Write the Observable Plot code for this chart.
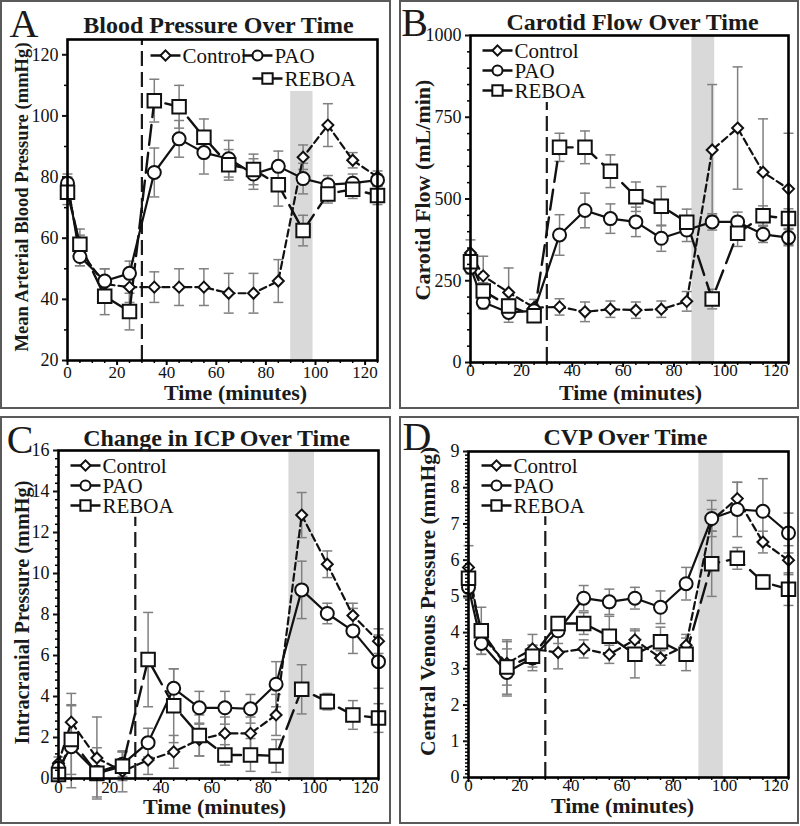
<!DOCTYPE html>
<html><head><meta charset="utf-8">
<script src="https://cdn.jsdelivr.net/npm/d3@7"></script>
<script src="https://cdn.jsdelivr.net/npm/@observablehq/plot@0.6"></script>
<style>
body{margin:0;background:#fff;}
#wrap{position:relative;width:800px;height:826px;overflow:hidden;font-family:"Liberation Serif","Times New Roman",serif;}
.panel{position:absolute;width:400px;height:413px;}
.box{position:absolute;border:2px solid #5a5a5a;box-sizing:border-box;}
</style></head>
<body><div id="wrap"></div>
<script>
// ---------- data ----------
const times = [0,5,15,25,35,45,55,65,75,85,95,105,115,125];
const seriesNames = ["Control","PAO","REBOA"];

// A: Mean arterial blood pressure (mmHg)
const mapControl = [77,56,45,44,44,44,44,42,42,46,86.5,97,85.5,80];
const mapPAO     = [78,54,46,48.5,81.5,92.5,88,86,81,83.5,79.5,77.5,78,79];
const mapREBOA   = [75,58,41,36,105,103,93,84,82.5,77.5,62.5,74.5,76,74];
const mapControlErr = [3,5,5,5,5,6,6,6.5,6.5,7,4,7,2.5,2];
const mapPAOErr     = [3,3,4,4,8,6,7,6,5,5,5,3,3,2];
const mapREBOAErr   = [4,5,6,6,7,7,6,5,5,7,5,3,3,3];

// B: Carotid flow (mL/min)
const cfControl = [335,265,214,168,170,155,163,160,163,187,650,717,582,531];
const cfPAO     = [291,184,153,158,390,465,440,430,380,405,430,430,392,382];
const cfREBOA   = [308,219,173,143,658,658,585,507,478,429,194,395,449,440];
const cfControlErr = [40,60,75,25,25,30,25,25,25,30,200,187,163,170];
const cfPAOErr     = [20,20,30,20,62,53,45,45,40,35,25,30,25,25];
const cfREBOAErr   = [20,25,20,15,43,50,50,45,60,40,30,40,30,30];

// C: Intracranial pressure change (mmHg)
const icpControl = [0.75,2.75,1.0,0.35,0.9,1.3,1.9,2.2,2.2,3.1,12.85,10.45,7.95,6.7];
const icpPAO     = [0.5,1.55,0.3,0.7,1.75,4.4,3.45,3.45,3.4,4.6,9.2,8.05,7.2,5.7];
const icpREBOA   = [0.2,1.9,0.25,0.6,5.8,3.55,2.1,1.15,1.15,1.1,4.35,3.75,3.1,2.95];
const icpControlErr = [0.3,1.4,2.0,1.0,0.7,0.8,0.8,0.8,0.8,1.0,1.1,0.65,0.6,0.6];
const icpPAOErr     = [0.3,2.0,1.2,0.6,0.7,0.95,0.8,0.8,0.7,1.1,1.4,0.5,1.1,1.3];
const icpREBOAErr   = [0.2,1.7,0.3,0.7,2.3,1.8,1.0,0.5,0.8,0.8,1.2,0.4,0.7,0.7];

// D: Central venous pressure (mmHg)
const cvpControl = [5.8,3.9,3.15,3.55,3.45,3.55,3.4,3.8,3.3,3.65,7.1,7.7,6.5,6.0];
const cvpPAO     = [5.25,3.7,2.9,3.3,4.05,4.95,4.85,4.95,4.7,5.35,7.15,7.4,7.35,6.75];
const cvpREBOA   = [5.5,4.05,3.05,3.35,4.25,4.25,3.9,3.4,3.75,3.4,5.9,6.05,5.4,5.2];
const cvpControlErr = [0.6,0.3,0.6,0.4,0.45,0.25,0.25,0.3,0.2,0.3,0.3,0.45,0.3,0.4];
const cvpPAOErr     = [0.3,0.3,0.65,0.35,0.35,0.35,0.35,0.3,0.45,0.45,0.5,0.75,0.9,0.55];
const cvpREBOAErr   = [0.3,0.65,0.75,0.3,0.15,0.3,0.55,0.65,0.4,0.45,0.9,0.3,0.2,0.45];

// labels / ticks
const panelLetters = ["A","B","C","D"];
const panelTitles = ["Blood Pressure Over Time","Carotid Flow Over Time","Change in ICP Over Time","CVP Over Time"];
const yLabels = ["Mean Arterial Blood Pressure (mmHg)","Carotid Flow (mL/min)","Intracranial Pressure (mmHg)","Central Venous Pressure (mmHg)"];
const xLabel = "Time (minutes)";
const xTicks = [0,20,40,60,80,100,120];
const yTicksA = [20,40,60,80,100,120];
const yTicksB = [0,250,500,750,1000];
const yTicksC = [0,2,4,6,8,10,12,14,16];
const yTicksD = [0,1,2,3,4,5,6,7,8,9];
const interventionTime = [30];
const bandA = [90,99], bandB = [87,96], bandC = [90,100], bandD = [90,99.5];

// ---------- drawing ----------
const capSymbol = {draw(ctx){ctx.moveTo(-5,0);ctx.lineTo(5,0);}};
const legLine = {draw(ctx){ctx.moveTo(-15,0);ctx.lineTo(15,0);}};
const styles = {
  Control:{dash:"7,4", symbol:"diamond2", r:4.95, lr:4.6, sw:2.2},
  PAO:{dash:null, symbol:"circle", r:6.5, lr:5, sw:2.2},
  REBOA:{dash:"20,8", symbol:"square2", r:8.6, lr:6.6, sw:2.4}
};
function range(a,b,s){const out=[];for(let v=a;v<=b+1e-9;v+=s) out.push(+v.toFixed(4));return out;}

function makePanel(cfg){
  const rows = [];
  seriesNames.forEach((name,k)=>{
    times.forEach((t,i)=>rows.push({series:name,t,v:cfg.vals[k][i],lo:cfg.vals[k][i]-cfg.errs[k][i],hi:cfg.vals[k][i]+cfg.errs[k][i]}));
  });
  const [y0,y1] = cfg.yDomain;
  const minorY = range(y0,y1,cfg.minorStep).filter(v=>!cfg.yTicks.some(t=>Math.abs(t-v)<1e-6));
  const minorX = range(0,125,5).filter(v=>!xTicks.includes(v));
  const T = {textAnchor:"middle", lineAnchor:"middle", fill:"#1a1a1a"};
  const marks = [
    Plot.rect([cfg.band],{x1:d=>d[0],x2:d=>d[1],y1:()=>y0,y2:()=>cfg.bandTop,fill:"#d9d9d9"}),
    Plot.ruleX(interventionTime,{x:d=>d,y1:()=>y0,y2:()=>cfg.ruleTop,stroke:"#1a1a1a",strokeWidth:2.2,strokeDasharray:"15,6"}),
    Plot.ruleX(rows,{x:"t",y1:"lo",y2:"hi",stroke:"#808080",strokeWidth:1.5}),
    Plot.dot(rows,{x:"t",y:"lo",symbol:capSymbol,stroke:"#808080",strokeWidth:1.5,fill:"none"}),
    Plot.dot(rows,{x:"t",y:"hi",symbol:capSymbol,stroke:"#808080",strokeWidth:1.5,fill:"none"})
  ];
  seriesNames.forEach(name=>{
    const s = styles[name];
    marks.push(Plot.line(rows.filter(d=>d.series===name),{x:"t",y:"v",stroke:"#111",strokeWidth:s.sw,strokeDasharray:s.dash}));
  });
  seriesNames.forEach(name=>{
    const s = styles[name];
    marks.push(Plot.dot(rows.filter(d=>d.series===name),{x:"t",y:"v",symbol:s.symbol,r:s.r,fill:"white",stroke:"#111",strokeWidth:2}));
  });
  // legend
  cfg.legend.forEach((p,k)=>{
    const name = seriesNames[k], s = styles[name];
    marks.push(Plot.dot([name],{frameAnchor:"top-left",dx:p[0],dy:p[1],symbol:legLine,stroke:"#111",strokeWidth:2.5,fill:"none"}));
    marks.push(Plot.dot([name],{frameAnchor:"top-left",dx:p[0],dy:p[1],symbol:s.symbol,r:s.lr,fill:"white",stroke:"#111",strokeWidth:2}));
    marks.push(Plot.text([name],{text:d=>d,frameAnchor:"top-left",dx:p[0]+17,dy:p[1]+1,textAnchor:"start",lineAnchor:"middle",fontSize:21,fill:"#111"}));
  });
  marks.push(
    Plot.frame({stroke:"#000",strokeWidth:2.6}),
    Plot.axisY({ticks:cfg.yTicks,tickSize:5,tickPadding:4,fontSize:18,label:null,strokeWidth:2,color:"#111",tickFormat:d=>String(d)}),
    Plot.axisY({ticks:minorY,tickSize:3,tickFormat:()=>"",label:null,strokeWidth:1.5}),
    Plot.axisX({ticks:xTicks,tickSize:5,tickFormat:()=>"",label:null,strokeWidth:2}),
    Plot.axisX({ticks:xTicks,tickSize:0,tickPadding:cfg.xPad,fontSize:17,label:null,color:"#111",tickFormat:d=>String(d)}),
    Plot.axisX({ticks:minorX,tickSize:3,tickFormat:()=>"",label:null,strokeWidth:1.5}),
    Plot.text([cfg.title],{...T,text:d=>d,frameAnchor:"top",dx:cfg.titleDx,dy:cfg.titleDy,fontSize:24,fontWeight:"bold"}),
    Plot.text([cfg.letter],{...T,text:d=>d,frameAnchor:"top-left",dx:cfg.letterPos[0],dy:cfg.letterPos[1],fontSize:40}),
    Plot.text([cfg.ylabel],{...T,text:d=>d,frameAnchor:"left",rotate:-90,dx:cfg.ylab[0],dy:cfg.ylab[1],fontSize:cfg.ylab[2],fontWeight:"bold"}),
    Plot.text([xLabel],{...T,text:d=>d,frameAnchor:"bottom",dx:cfg.xlab[0],dy:cfg.xlab[1],fontSize:22,fontWeight:"bold"})
  );
  return Plot.plot({
    width:400,height:413,
    marginLeft:cfg.m[0],marginRight:cfg.m[1],marginTop:cfg.m[2],marginBottom:cfg.m[3],
    x:{domain:[0,125]},
    y:{domain:cfg.yDomain},
    style:{fontFamily:"'Liberation Serif','Times New Roman',serif",background:"transparent",overflow:"visible"},
    marks
  });
}

const panels = [
  {letter:panelLetters[0],title:panelTitles[0],ylabel:yLabels[0],vals:[mapControl,mapPAO,mapREBOA],errs:[mapControlErr,mapPAOErr,mapREBOAErr],
   yDomain:[20,125],yTicks:yTicksA,minorStep:10,band:bandA,bandTop:108,ruleTop:125,
   m:[67,23,39,53],left:0,top:0,xPad:5,
   legend:[[98,16],[190,16],[200,39]],
   titleDx:-4,titleDy:-14,letterPos:[-43.5,-15],ylab:[-45,-3,18.6],xlab:[13,32]},
  {letter:panelLetters[1],title:panelTitles[1],ylabel:yLabels[1],vals:[cfControl,cfPAO,cfREBOA],errs:[cfControlErr,cfPAOErr,cfREBOAErr],
   yDomain:[0,1000],yTicks:yTicksB,minorStep:50,band:bandB,bandTop:1000,ruleTop:795,
   m:[70,12,35,51],left:400,top:0,xPad:1,
   legend:[[27,15],[27,35],[27,55]],
   titleDx:3,titleDy:-13,letterPos:[-56,-12],ylab:[-48,-9,22],xlab:[1,30]},
  {letter:panelLetters[2],title:panelTitles[2],ylabel:yLabels[2],vals:[icpControl,icpPAO,icpREBOA],errs:[icpControlErr,icpPAOErr,icpREBOAErr],
   yDomain:[0,16],yTicks:yTicksC,minorStep:0.4,band:bandC,bandTop:16,ruleTop:12.75,
   m:[58,22,37,48],left:0,top:413,xPad:2,
   legend:[[27,15],[27,35],[27,55]],
   titleDx:-2,titleDy:-12,letterPos:[-38.5,-10],ylab:[-36,-2,20.3],xlab:[-4,28.5]},
  {letter:panelLetters[3],title:panelTitles[3],ylabel:yLabels[3],vals:[cvpControl,cvpPAO,cvpREBOA],errs:[cvpControlErr,cvpPAOErr,cvpREBOAErr],
   yDomain:[0,9],yTicks:yTicksD,minorStep:0.1,band:bandD,bandTop:9,ruleTop:7.2,
   m:[68,12,38,49],left:400,top:413,xPad:1,
   legend:[[28,14],[28,34],[28,54]],
   titleDx:-3,titleDy:-14,letterPos:[-51.5,-14],ylab:[-40,-13,21.5],xlab:[-6,28]}
];

const wrap = document.getElementById("wrap");
const boxes = [[0,0,391,409],[399,0,400,409],[0,416,391,408],[399,416,400,408]];
boxes.forEach(b=>{const d=document.createElement("div");d.className="box";d.style.left=b[0]+"px";d.style.top=b[1]+"px";d.style.width=b[2]+"px";d.style.height=b[3]+"px";wrap.appendChild(d);});
panels.forEach(cfg=>{
  const div=document.createElement("div");div.className="panel";div.style.left=cfg.left+"px";div.style.top=cfg.top+"px";
  div.appendChild(makePanel(cfg));wrap.appendChild(div);
});
</script>
</body></html>
